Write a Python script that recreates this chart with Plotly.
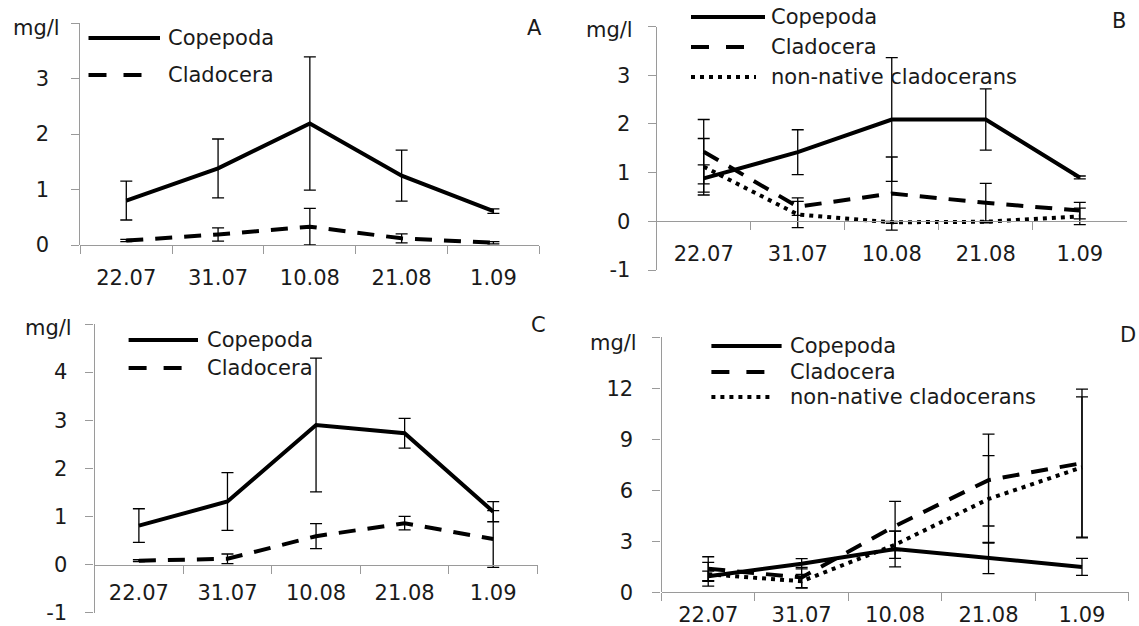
import plotly.graph_objects as go

W, H = 1139, 626

dates = ["22.07", "31.07", "10.08", "21.08", "1.09"]

# Panel A
copepoda_a = [0.80, 1.38, 2.19, 1.25, 0.61]
copepoda_a_err = [0.35, 0.53, 1.20, 0.46, 0.04]
cladocera_a = [0.08, 0.19, 0.33, 0.12, 0.04]
cladocera_a_err = [0.02, 0.12, 0.33, 0.08, 0.02]

# Panel B
copepoda_b = [0.88, 1.42, 2.09, 2.09, 0.90]
copepoda_b_err = [0.28, 0.46, 1.27, 0.63, 0.03]
cladocera_b = [1.43, 0.30, 0.57, 0.38, 0.22]
cladocera_b_err = [0.66, 0.18, 0.75, 0.40, 0.17]
nonnative_b = [1.12, 0.14, -0.02, -0.01, 0.10]
nonnative_b_err = [0.58, 0.27, 0.02, 0.02, 0.17]

# Panel C
copepoda_c = [0.81, 1.31, 2.90, 2.73, 1.10]
copepoda_c_err = [0.35, 0.60, 1.39, 0.31, 0.21]
cladocera_c = [0.08, 0.12, 0.59, 0.86, 0.53]
cladocera_c_err = [0.02, 0.10, 0.26, 0.14, 0.59]

# Panel D
copepoda_d = [0.95, 1.68, 2.55, 2.00, 1.49]
copepoda_d_err = [0.30, 0.30, 1.05, 0.90, 0.50]
cladocera_d = [1.39, 0.87, 3.90, 6.60, 7.60]
cladocera_d_err = [0.70, 0.60, 1.45, 2.70, 4.35]
nonnative_d = [1.06, 0.65, 2.80, 5.49, 7.35]
nonnative_d_err = [0.70, 0.40, 0.80, 2.55, 4.15]

FONT = "DejaVu Sans"
FS = 21
TXT = "#1a1a1a"
AXIS = "#9a9a9a"
LW = 4
DASH = "17px,12px"
DOT = "4px,5px"
line_dash = {"Copepoda": "solid", "Cladocera": DASH, "non-native cladocerans": DOT}
legend_dash = {"Copepoda": "solid", "Cladocera": "18px,17px", "non-native cladocerans": "4px,5px"}


def fx(x):
    return x / W


def fy(y):
    return 1 - y / H


panels = [
    dict(letter="A", sfx="", x0=80.4, x1=539.3, top=23.0, bot=245.0, yr=(0, 4), dt=1,
         ystand=18, xstand=14,
         series=[("Copepoda", copepoda_a, copepoda_a_err), ("Cladocera", cladocera_a, cladocera_a_err)],
         leg_x0=88.5, leg_x1=160, leg_tx=166, leg_rows=[38, 75],
         mg=(10.7, 28), let=(525, 28)),
    dict(letter="B", sfx="2", x0=656.7, x1=1126.8, top=26.5, bot=270.0, yr=(-1, 4), dt=1,
         ystand=13, xstand=13,
         series=[("Copepoda", copepoda_b, copepoda_b_err), ("Cladocera", cladocera_b, cladocera_b_err),
                 ("non-native cladocerans", nonnative_b, nonnative_b_err)],
         leg_x0=691, leg_x1=765, leg_tx=768.6, leg_rows=[17, 47, 77],
         mg=(584, 30), let=(1110, 21)),
    dict(letter="C", sfx="3", x0=94.6, x1=537.5, top=324.0, bot=612.7, yr=(-1, 5), dt=1,
         ystand=14, xstand=9,
         series=[("Copepoda", copepoda_c, copepoda_c_err), ("Cladocera", cladocera_c, cladocera_c_err)],
         leg_x0=128.6, leg_x1=198, leg_tx=205, leg_rows=[340, 368],
         mg=(23, 328), let=(528.6, 325)),
    dict(letter="D", sfx="4", x0=661.5, x1=1128.7, top=337.3, bot=592.3, yr=(0, 15), dt=3,
         ystand=15, xstand=3,
         series=[("Copepoda", copepoda_d, copepoda_d_err), ("Cladocera", cladocera_d, cladocera_d_err),
                 ("non-native cladocerans", nonnative_d, nonnative_d_err)],
         leg_x0=711.4, leg_x1=781.6, leg_tx=788, leg_rows=[346, 372, 397],
         mg=(587.7, 343), let=(1118, 335)),
]

fig = go.Figure()
layout = dict(
    width=W, height=H, margin=dict(l=0, r=0, t=0, b=0, autoexpand=False),
    paper_bgcolor="white", plot_bgcolor="white", showlegend=False,
    font=dict(family=FONT, size=FS, color=TXT),
)
shapes = []
annotations = []

for p in panels:
    xa = "x" + p["sfx"]
    ya = "y" + p["sfx"]
    ymin, ymax = p["yr"]
    ydom = [fy(p["bot"]), fy(p["top"])]
    # vertical position of the value-zero baseline, where the category axis sits
    zero_frac = ydom[0] + (0 - ymin) / (ymax - ymin) * (ydom[1] - ydom[0])

    for name, vals, err in p["series"]:
        fig.add_trace(go.Scatter(
            x=dates, y=vals, mode="lines", name=name,
            xaxis=xa, yaxis=ya,
            line=dict(color="black", width=LW, dash=line_dash[name]),
            error_y=dict(type="data", array=err, visible=True, color="black", thickness=1.3, width=6),
            cliponaxis=False,
        ))

    tickvals = list(range(ymin, ymax + 1, p["dt"]))
    ticktext = [str(v) for v in tickvals[:-1]] + [""]

    layout["xaxis" + p["sfx"]] = dict(
        domain=[fx(p["x0"]), fx(p["x1"])], type="category", range=[-0.5, 4.5],
        anchor="free", position=zero_frac, side="bottom", automargin=False,
        tickson="boundaries", ticks="outside", ticklen=8, tickwidth=1.3, tickcolor=AXIS,
        showline=True, linecolor=AXIS, linewidth=1.3, showgrid=False, zeroline=False,
        tickfont=dict(family=FONT, size=FS, color=TXT), ticklabelstandoff=p["xstand"],
        fixedrange=True,
    )
    layout["yaxis" + p["sfx"]] = dict(
        domain=ydom, range=[ymin, ymax], anchor=xa, automargin=False,
        tickmode="array", tickvals=tickvals, ticktext=ticktext,
        ticks="outside", ticklen=8, tickwidth=1.3, tickcolor=AXIS,
        showline=True, linecolor=AXIS, linewidth=1.3, showgrid=False, zeroline=False,
        tickfont=dict(family=FONT, size=FS, color=TXT), ticklabelstandoff=p["ystand"],
        fixedrange=True,
    )

    # per-panel key: line sample + series name
    for (name, _, _), row in zip(p["series"], p["leg_rows"]):
        x1 = p["leg_x1"]
        if name == "Cladocera":
            x1 = p["leg_x0"] + 53
        elif name == "non-native cladocerans":
            x1 = p["leg_x1"] - 9
        shapes.append(dict(
            type="line", xref="paper", yref="paper",
            x0=fx(p["leg_x0"]), x1=fx(x1), y0=fy(row), y1=fy(row),
            line=dict(color="black", width=LW, dash=legend_dash[name]),
        ))
        annotations.append(dict(
            text=name, xref="paper", yref="paper", x=fx(p["leg_tx"]), y=fy(row),
            xanchor="left", yanchor="middle", showarrow=False,
            font=dict(family=FONT, size=FS, color=TXT),
        ))

    annotations.append(dict(
        text="mg/l", xref="paper", yref="paper", x=fx(p["mg"][0]), y=fy(p["mg"][1]),
        xanchor="left", yanchor="middle", showarrow=False,
        font=dict(family=FONT, size=FS, color=TXT),
    ))
    annotations.append(dict(
        text=p["letter"], xref="paper", yref="paper", x=fx(p["let"][0]), y=fy(p["let"][1]),
        xanchor="left", yanchor="middle", showarrow=False,
        font=dict(family=FONT, size=FS, color=TXT),
    ))

layout["shapes"] = shapes
layout["annotations"] = annotations
fig.update_layout(**layout)
fig.write_html("out.html")
